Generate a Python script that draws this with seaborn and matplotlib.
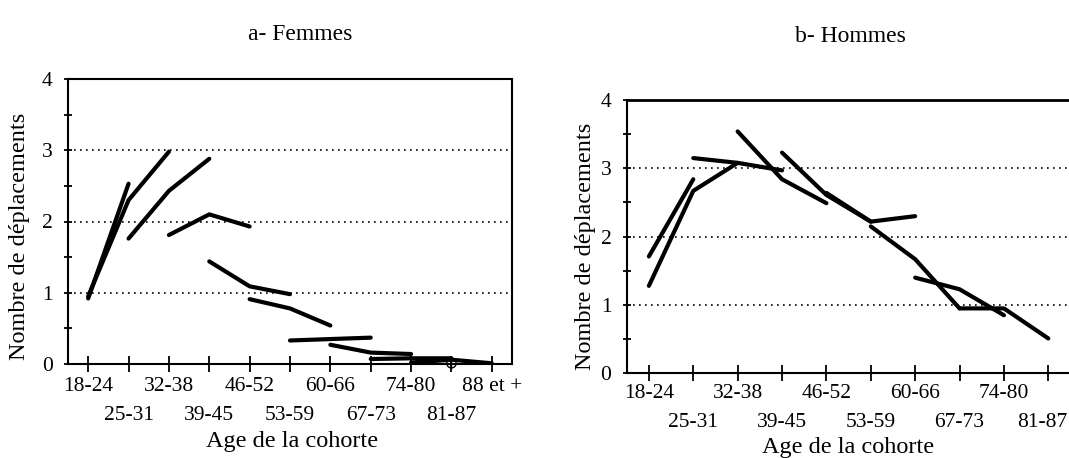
import numpy as np
import pandas as pd
import matplotlib
matplotlib.use("Agg")
import matplotlib.pyplot as plt
import matplotlib.transforms as mtransforms
import seaborn as sns
from matplotlib.ticker import MultipleLocator

# ---------------- data ----------------
categories_femmes = ["18-24", "25-31", "32-38", "39-45", "46-52", "53-59",
                     "60-66", "67-73", "74-80", "81-87", "88 et +"]
categories_hommes = ["18-24", "25-31", "32-38", "39-45", "46-52", "53-59",
                     "60-66", "67-73", "74-80", "81-87"]

# each cohort: index of first age class, then values observed at successive surveys
femmes_start = [0, 0, 1, 2, 3, 4, 5, 6, 7, 8]
femmes_values = [
    [0.92, 2.53],
    [0.95, 2.30, 2.98],
    [1.76, 2.43, 2.88],
    [1.81, 2.10, 1.93],
    [1.44, 1.09, 0.98],
    [0.91, 0.78, 0.54],
    [0.33, 0.35, 0.37],
    [0.27, 0.16, 0.14],
    [0.07, 0.08, 0.08],
    [0.02, 0.06, 0.01],
]
femmes_marker_age = ["81-87"]
femmes_marker_val = [0.01]

hommes_start = [0, 0, 1, 2, 3, 4, 5, 6, 7]
hommes_values = [
    [1.71, 2.84],
    [1.28, 2.67, 3.08],
    [3.15, 3.08, 2.97],
    [3.54, 2.84, 2.49],
    [3.23, 2.61, 2.22],
    [2.64, 2.22, 2.30],
    [2.15, 1.67, 0.95],
    [1.40, 1.23, 0.85],
    [0.95, 0.95, 0.51],
]

y_ticks = [0, 1, 2, 3, 4]


def long_df(starts, values, cats):
    rows = []
    for i, (s, vals) in enumerate(zip(starts, values)):
        for k, v in enumerate(vals):
            rows.append({"cohorte": i, "age": cats[s + k],
                         "x": cats.index(cats[s + k]), "val": v})
    return pd.DataFrame(rows)


df_f = long_df(femmes_start, femmes_values, categories_femmes)
df_h = long_df(hommes_start, hommes_values, categories_hommes)
df_m = pd.DataFrame({"x": [categories_femmes.index(a) for a in femmes_marker_age],
                     "val": femmes_marker_val})

# ---------------- style ----------------
sns.set_theme(style="white", rc={
    "axes.edgecolor": "black", "text.color": "black",
    "xtick.color": "black", "ytick.color": "black",
    "axes.labelcolor": "black",
})
plt.rcParams["font.family"] = ["Liberation Serif", "DejaVu Serif"]

W, H = 1069, 458
fig = plt.figure(figsize=(W / 100, H / 100), dpi=100)


def px_axes(left, top, right, bottom):
    return fig.add_axes([left / W, 1 - bottom / H, (right - left) / W, (bottom - top) / H])


ax1 = px_axes(68, 79, 512, 364)
ax2 = px_axes(626.7, 100, 1070.5, 373.3)

FS_TICK = 15.5
FS_LABEL = 17.5
FS_TITLE = 17


def style_axes(ax, cats, row1_pad, row2_pad):
    ax.set_xlim(-0.5, len(cats) - 0.5)
    ax.set_ylim(0, 4)
    ax.set_xticks(range(len(cats)))
    ax.set_xticklabels(cats)
    ax.set_yticks(y_ticks)
    ax.set_yticklabels([str(t) for t in y_ticks])
    ax.yaxis.set_minor_locator(MultipleLocator(0.5))
    ax.tick_params(axis="x", which="major", direction="inout", length=11,
                   width=1.3, pad=row1_pad, labelsize=FS_TICK, bottom=True)
    ax.tick_params(axis="y", which="both", direction="inout", length=6,
                   width=1.3, pad=8, labelsize=FS_TICK, left=True)
    for t in ax.xaxis.get_major_ticks()[1::2]:
        t.set_pad(row2_pad)
    ax.yaxis.grid(True, which="major", linestyle=(0, (1, 2.6)),
                  color="black", lw=1.2)
    ax.xaxis.grid(False)
    ax.set_axisbelow(True)
    for sp in ax.spines.values():
        sp.set_linewidth(1.5)
        sp.set_color("black")


sns.lineplot(data=df_f, x="x", y="val", units="cohorte", estimator=None,
             sort=False, color="black", lw=3.0, ax=ax1, legend=False,
             solid_capstyle="round")
sns.scatterplot(data=df_m, x="x", y="val", marker="o", s=45,
                facecolor="none", edgecolor="black", linewidth=1.0,
                ax=ax1, legend=False, clip_on=False, zorder=5)
sns.scatterplot(data=df_m, x="x", y="val", marker="|", s=70,
                color="black", linewidth=1.0, ax=ax1, legend=False,
                clip_on=False, zorder=5)
sns.lineplot(data=df_h, x="x", y="val", units="cohorte", estimator=None,
             sort=False, color="black", lw=3.0, ax=ax2, legend=False,
             solid_capstyle="round")

style_axes(ax1, categories_femmes, 4, 25)
style_axes(ax2, categories_hommes, 2, 23)
ax2.spines["right"].set_visible(False)
ax2.spines["top"].set_linewidth(2.0)

# keep the last right-panel label inside the figure edge
last = ax2.xaxis.get_major_ticks()[-1].label1
last.set_transform(last.get_transform() +
                   mtransforms.ScaledTranslation(-6 / 100, 0, fig.dpi_scale_trans))

for ax, title, tx, ty, ylx, yly, xlx, xly in [
        (ax1, "a- Femmes", 300, 35, 20, 236, 292, 442),
        (ax2, "b- Hommes", 850, 37, 585, 246, 848, 448)]:
    ax.set_xlabel("Age de la cohorte", fontsize=FS_LABEL, va="center")
    ax.set_ylabel("Nombre de déplacements", fontsize=FS_LABEL, va="center")
    bb = ax.get_position()
    x0, x1 = bb.x0 * W, bb.x1 * W
    y_top, y_bot = (1 - bb.y1) * H, (1 - bb.y0) * H
    ax.xaxis.set_label_coords((xlx - x0) / (x1 - x0),
                              (y_bot - xly) / (y_bot - y_top))
    ax.yaxis.set_label_coords((ylx - x0) / (x1 - x0),
                              (y_bot - yly) / (y_bot - y_top))
    fig.text(tx / W, 1 - ty / H, title, ha="center", va="center",
             fontsize=FS_TITLE)

fig.savefig("out.png", dpi=100)
